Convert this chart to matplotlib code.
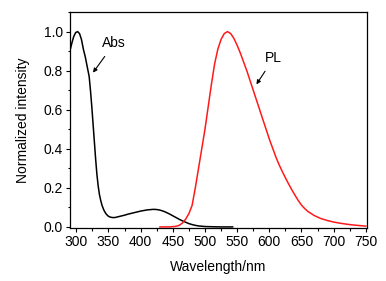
import numpy as np
import matplotlib
matplotlib.use('Agg')
import matplotlib.pyplot as plt
from matplotlib.ticker import MultipleLocator

plt.rcParams['font.family'] = ['Liberation Sans', 'DejaVu Sans']

# 吸收光谱 (Abs)
abs_wl = [290, 293, 296, 299, 302, 305, 308, 311, 314, 317, 320, 322, 324, 326, 328,
          330, 332, 334, 336, 338, 340, 343, 346, 349, 352, 356, 360, 365, 370, 375,
          380, 390, 400, 410, 420, 425, 430, 435, 440, 445, 450, 455, 460, 465, 470,
          475, 480, 485, 490, 500, 510, 525, 543]
abs_val = [0.90, 0.94, 0.975, 0.995, 1.00, 0.99, 0.96, 0.91, 0.87, 0.82, 0.77, 0.70,
           0.62, 0.53, 0.44, 0.35, 0.27, 0.21, 0.165, 0.135, 0.11, 0.085, 0.068, 0.057,
           0.051, 0.048, 0.048, 0.052, 0.056, 0.060, 0.065, 0.073, 0.081, 0.087, 0.090,
           0.089, 0.086, 0.081, 0.074, 0.066, 0.057, 0.048, 0.039, 0.031, 0.024, 0.017,
           0.012, 0.008, 0.005, 0.002, 0.001, 0.0, 0.0]

# 荧光光谱 (PL)
pl_wl = [430, 445, 455, 460, 465, 470, 475, 480, 485, 490, 495, 500, 505, 510, 515,
         520, 525, 530, 535, 540, 545, 550, 555, 560, 565, 570, 575, 580, 585, 590,
         595, 600, 605, 610, 615, 620, 625, 630, 635, 640, 645, 650, 655, 660, 670,
         680, 690, 700, 710, 720, 730, 740, 750]
pl_val = [0.0, 0.0, 0.003, 0.008, 0.02, 0.04, 0.068, 0.11, 0.20, 0.30, 0.40, 0.50,
          0.615, 0.73, 0.835, 0.91, 0.96, 0.99, 1.00, 0.99, 0.965, 0.93, 0.89, 0.845,
          0.80, 0.75, 0.70, 0.65, 0.60, 0.55, 0.50, 0.45, 0.405, 0.36, 0.32, 0.285,
          0.252, 0.22, 0.19, 0.162, 0.135, 0.112, 0.094, 0.079, 0.058, 0.043, 0.033,
          0.025, 0.019, 0.014, 0.010, 0.007, 0.004]

fig = plt.figure(figsize=(3.86, 2.81), dpi=100)
ax = fig.add_axes([0.181, 0.189, 0.770, 0.768])

ax.plot(abs_wl, abs_val, color='black', lw=1.1)
ax.plot(pl_wl, pl_val, color='#ff1a1a', lw=1.1)

ax.set_xlim(290, 752)
ax.set_ylim(-0.005, 1.1)
ax.xaxis.set_major_locator(MultipleLocator(50))
ax.xaxis.set_minor_locator(MultipleLocator(25))
ax.yaxis.set_major_locator(MultipleLocator(0.2))
ax.yaxis.set_minor_locator(MultipleLocator(0.1))
ax.tick_params(which='major', direction='out', length=3, width=0.8, labelsize=10, pad=2)
ax.tick_params(which='minor', direction='out', length=1.8, width=0.8)
ax.set_yticks(np.arange(0, 1.01, 0.2))
ax.set_yticklabels(['0.0', '0.2', '0.4', '0.6', '0.8', '1.0'])
for s in ax.spines.values():
    s.set_linewidth(0.9)

ax.set_xlabel('Wavelength/nm', fontsize=10, labelpad=8)
ax.set_ylabel('Normalized intensity', fontsize=10, labelpad=10)

ax.annotate('Abs', xy=(326, 0.79), xytext=(359, 0.94), fontsize=10,
            ha='center', va='center',
            arrowprops=dict(arrowstyle='-|>', color='black', lw=0.8,
                            mutation_scale=6, shrinkA=3, shrinkB=0))
ax.annotate('PL', xy=(580, 0.73), xytext=(607, 0.865), fontsize=10,
            ha='center', va='center',
            arrowprops=dict(arrowstyle='-|>', color='black', lw=0.8,
                            mutation_scale=6, shrinkA=3, shrinkB=0))

fig.savefig('out.png', dpi=100)
